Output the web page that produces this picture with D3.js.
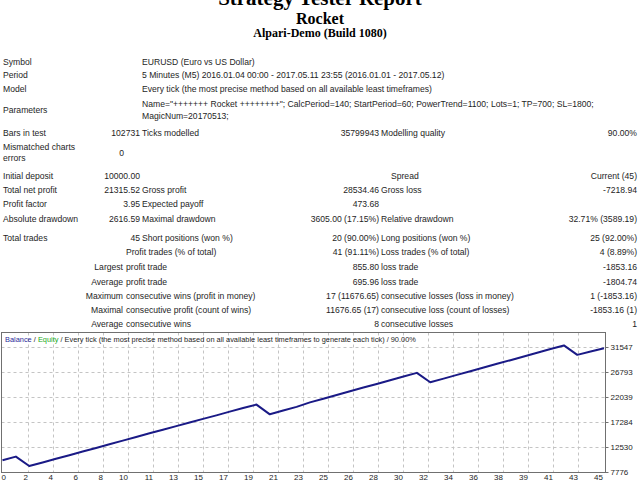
<!DOCTYPE html>
<html>
<head>
<meta charset="utf-8">
<script src="https://cdn.jsdelivr.net/npm/d3@7"></script>
<style>
  html, body { margin: 0; padding: 0; background: #fff; overflow: hidden; }
  svg { display: block; }
</style>
</head>
<body>
<div id="report"></div>
<script>
// ---- report data ----
const titles = ['Strategy Tester Report', 'Rocket', 'Alpari-Demo (Build 1080)'];

const infoRows = [
  ['Symbol', 'EURUSD (Euro vs US Dollar)'],
  ['Period', '5 Minutes (M5) 2016.01.04 00:00 - 2017.05.11 23:55 (2016.01.01 - 2017.05.12)'],
  ['Model', 'Every tick (the most precise method based on all available least timeframes)']
];
const paramLines = [
  'Name="+++++++ Rocket ++++++++"; CalcPeriod=140; StartPeriod=60; PowerTrend=1100; Lots=1; TP=700; SL=1800;',
  'MagicNum=20170513;'
];

// label, value, label, value, label, value
const statRows = [
  ['Bars in test', '102731', 'Ticks modelled', '35799943', 'Modelling quality', '90.00%'],
  ['Initial deposit', '10000.00', '', '', 'Spread', 'Current (45)'],
  ['Total net profit', '21315.52', 'Gross profit', '28534.46', 'Gross loss', '-7218.94'],
  ['Profit factor', '3.95', 'Expected payoff', '473.68', '', ''],
  ['Absolute drawdown', '2616.59', 'Maximal drawdown', '3605.00 (17.15%)', 'Relative drawdown', '32.71% (3589.19)'],
  ['Total trades', '45', 'Short positions (won %)', '20 (90.00%)', 'Long positions (won %)', '25 (92.00%)']
];

// prefix, label, value, label, value
const tradeRows = [
  ['', 'Profit trades (% of total)', '41 (91.11%)', 'Loss trades (% of total)', '4 (8.89%)'],
  ['Largest', 'profit trade', '855.80', 'loss trade', '-1853.16'],
  ['Average', 'profit trade', '695.96', 'loss trade', '-1804.74'],
  ['Maximum', 'consecutive wins (profit in money)', '17 (11676.65)', 'consecutive losses (loss in money)', '1 (-1853.16)'],
  ['Maximal', 'consecutive profit (count of wins)', '11676.65 (17)', 'consecutive loss (count of losses)', '-1853.16 (1)'],
  ['Average', 'consecutive wins', '8', 'consecutive losses', '1']
];

// balance after each trade, trade 0 = initial deposit
const balance = [
  10000.00, 10702.10, 8921.68, 9592.88, 10281.33, 10976.63, 11678.73, 12347.63,
  13038.38, 13737.78, 14421.98, 15129.33, 15804.93, 16497.73, 17179.18, 17877.38,
  18547.73, 19253.33, 19941.43, 20598.33, 18745.17, 19457.57, 20155.87, 21011.67,
  21716.82, 22407.42, 23127.67, 23829.57, 24525.02, 25235.82, 25924.17, 26626.77,
  24834.72, 25533.92, 26240.37, 26931.67, 27646.27, 28349.12, 29038.02, 29747.17,
  30444.57, 31150.32, 31843.52, 30050.21, 30691.27, 31315.52
];
const yTicks = [7776, 12530, 17284, 22039, 26793, 31547];
const xTickLabels = ['0', '2', '4', '6', '8', '10', '11', '13', '15', '17', '19', '21', '23',
  '25', '26', '28', '30', '32', '34', '36', '38', '39', '41', '43', '45'];

// ---- drawing ----
const W = 640, H = 480;
const FONT = 'Liberation Sans, Arial, sans-serif';
const SERIF = 'Liberation Serif, Times New Roman, serif';
const INK = '#1e1e1e';

const svg = d3.select('#report').append('svg')
  .attr('width', W).attr('height', H)
  .attr('viewBox', `0 0 ${W} ${H}`);

// header (the big title is clipped by the top edge, as in the report)
const header = [
  { size: 21, y: 5 },
  { size: 16, y: 24 },
  { size: 12, y: 37 }
];
svg.selectAll('text.title')
  .data(titles).join('text')
  .attr('class', 'title')
  .attr('x', W / 2)
  .attr('y', (d, i) => header[i].y)
  .attr('text-anchor', 'middle')
  .attr('font-family', SERIF)
  .attr('font-weight', 'bold')
  .attr('font-size', (d, i) => header[i].size)
  .attr('fill', '#000')
  .text(d => d);

const txt = (x, y, s, anchor = 'start') => svg.append('text')
  .attr('x', x).attr('y', y + 3)
  .attr('text-anchor', anchor)
  .attr('font-family', FONT)
  .attr('font-size', 8.6)
  .attr('fill', INK)
  .text(s);

// column stops
const C0 = 3, C1R = 140, C2 = 142, C3R = 379, C4 = 381, C5R = 637;

const infoY = [62, 75, 89];
infoRows.forEach((r, i) => {
  txt(C0, infoY[i], r[0]);
  txt(C2, infoY[i], r[1]);
});
txt(C0, 110, 'Parameters');
paramLines.forEach((s, i) => txt(C2, 104 + i * 12, s));

const statY = [133, 176, 190, 204, 219, 238];
statRows.forEach((r, i) => {
  const y = statY[i];
  txt(C0, y, r[0]);
  txt(C1R, y, r[1], 'end');
  txt(C2, y, r[2]);
  txt(C3R, y, r[3], 'end');
  if (r[4] === 'Spread') txt(C3R + 12, y, r[4]);
  else txt(C4, y, r[4]);
  txt(C5R, y, r[5], 'end');
});
// mismatched charts errors (two-line label)
txt(C0, 147, 'Mismatched charts');
txt(C0, 158, 'errors');
txt(124, 153, '0', 'end');

const tradeY = [252, 267, 282, 296, 310, 324];
tradeRows.forEach((r, i) => {
  const y = tradeY[i];
  if (r[0]) txt(123, y, r[0], 'end');
  txt(126, y, r[1]);
  txt(C3R, y, r[2], 'end');
  txt(C4, y, r[3]);
  txt(C5R, y, r[4], 'end');
});

// ---- balance chart ----
const box = { left: 1.5, top: 332.5, right: 605.5, bottom: 472.5 };

const x = d3.scaleLinear().domain([0, balance.length - 1]).range([2.5, 604]);
const y = d3.scaleLinear().domain([yTicks[0], yTicks[yTicks.length - 1]]).range([472, 347]);
const gridX = d3.scaleLinear().domain([0, xTickLabels.length - 1]).range([3, 603]);

const chart = svg.append('g');

// grid
chart.selectAll('line.gx')
  .data(xTickLabels.slice(1, -1)).join('line')
  .attr('class', 'gx')
  .attr('x1', (d, i) => Math.round(gridX(i + 1)) + 0.5)
  .attr('x2', (d, i) => Math.round(gridX(i + 1)) + 0.5)
  .attr('y1', box.top).attr('y2', box.bottom)
  .attr('stroke', '#c4c4c4').attr('stroke-dasharray', '3,3');

chart.selectAll('line.gy')
  .data(yTicks.slice(1)).join('line')
  .attr('class', 'gy')
  .attr('x1', box.left).attr('x2', box.right)
  .attr('y1', d => Math.round(y(d)) + 0.5)
  .attr('y2', d => Math.round(y(d)) + 0.5)
  .attr('stroke', '#c4c4c4').attr('stroke-dasharray', '3,3');

// frame
chart.append('rect')
  .attr('x', box.left).attr('y', box.top)
  .attr('width', box.right - box.left).attr('height', box.bottom - box.top)
  .attr('fill', 'none').attr('stroke', '#707070');

// right axis
const yAxis = d3.axisRight(y).tickValues(yTicks).tickFormat(d3.format('d'))
  .tickSize(3).tickPadding(2);
chart.append('g')
  .attr('transform', `translate(${box.right},0)`)
  .call(yAxis)
  .call(g => g.select('.domain').remove())
  .call(g => g.selectAll('line').attr('stroke', '#707070'))
  .call(g => g.selectAll('text')
    .attr('font-family', FONT).attr('font-size', 8).attr('fill', INK));

// bottom labels
chart.selectAll('text.xl')
  .data(xTickLabels).join('text')
  .attr('class', 'xl')
  .attr('x', (d, i) => gridX(i) + (i === 0 ? 3 : 0))
  .attr('y', 480)
  .attr('text-anchor', 'end')
  .attr('font-family', FONT).attr('font-size', 8).attr('fill', INK)
  .text(d => d);

// balance line
const line = d3.line()
  .x((d, i) => x(i))
  .y(d => y(d));

chart.append('path')
  .datum(balance)
  .attr('fill', 'none')
  .attr('stroke', '#1a1a86')
  .attr('stroke-width', 2)
  .attr('stroke-linejoin', 'round')
  .attr('d', line);

// legend line inside the frame
const legend = chart.append('text')
  .attr('x', 5).attr('y', 342)
  .attr('font-family', FONT).attr('font-size', 7.4).attr('fill', INK);
legend.append('tspan').attr('fill', '#2a2a9a').text('Balance');
legend.append('tspan').text(' / ');
legend.append('tspan').attr('fill', '#22aa22').text('Equity');
legend.append('tspan').text(' / Every tick (the most precise method based on all available least timeframes to generate each tick) / 90.00%');
</script>
</body>
</html>
